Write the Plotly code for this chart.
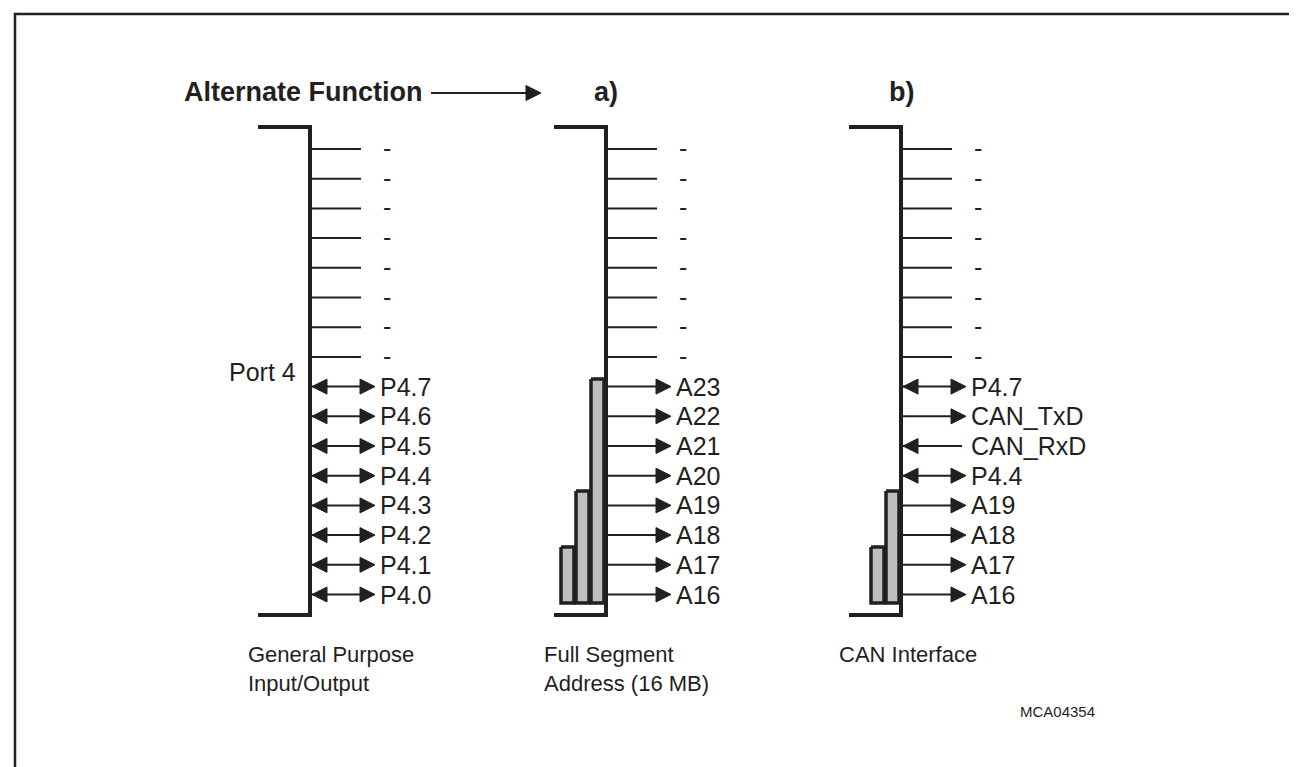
import plotly.graph_objects as go

#######################################
#   Data   #
#######################################

GPIO_LABELS = ["-"] * 8 + ["P4.7", "P4.6", "P4.5", "P4.4", "P4.3", "P4.2", "P4.1", "P4.0"]
GPIO_DIRS = ["none"] * 8 + ["both"] * 8

SEGMENT_LABELS = ["-"] * 8 + ["A23", "A22", "A21", "A20", "A19", "A18", "A17", "A16"]
SEGMENT_DIRS = ["none"] * 8 + ["out"] * 8
SEGMENT_GROUPS = [8, 4, 2]  # address lines grouped from the bottom pin

CAN_LABELS = ["-"] * 8 + ["P4.7", "CAN_TxD", "CAN_RxD", "P4.4", "A19", "A18", "A17", "A16"]
CAN_DIRS = ["none"] * 8 + ["both", "out", "in", "both", "out", "out", "out", "out"]
CAN_GROUPS = [4, 2]

COLUMN_TAGS = ["", "a)", "b)"]
COLUMN_TITLES = [
    ["General Purpose", "Input/Output"],
    ["Full Segment", "Address (16 MB)"],
    ["CAN Interface"],
]
HEADER = "Alternate Function"
PORT_NAME = "Port 4"
FIG_ID = "MCA04354"

#######################################
#   Geometry & style   #
#######################################

W, H = 1297, 767
INK = "#231f20"
GREY = "#bcbec0"
FONT = "Liberation Sans, Arial, sans-serif"
FS = 25

BUS_X = [302, 598, 893]
ROW_Y0, ROW_STEP = 141, 29.7
BUS_TOP, BUS_BOT = 119, 607
STUB = 52
DASH_LEN, ARROW_LEN = 51, 65
HEAD_L, HEAD_H = 15, 7.5
LABEL_DX = 68
BAR_W, BAR_UNIT, BAR_BOT = 15, 28, 595
TITLE_Y0, TITLE_STEP = 646, 29

columns = [
    (GPIO_LABELS, GPIO_DIRS, []),
    (SEGMENT_LABELS, SEGMENT_DIRS, SEGMENT_GROUPS),
    (CAN_LABELS, CAN_DIRS, CAN_GROUPS),
]

fig = go.Figure()

bus_x, bus_y = [], []
pin_x, pin_y = [], []
head_x, head_y = [], []
annotations = []


def right_head(tip, y):
    head_x.extend([tip - HEAD_L, tip, tip - HEAD_L, tip - HEAD_L, None])
    head_y.extend([y - HEAD_H, y, y + HEAD_H, y - HEAD_H, None])


def left_head(tip, y):
    head_x.extend([tip + HEAD_L, tip, tip + HEAD_L, tip + HEAD_L, None])
    head_y.extend([y - HEAD_H, y, y + HEAD_H, y - HEAD_H, None])


def text(x, y, s, size=FS, anchor="left", bold=False):
    annotations.append(
        dict(
            x=x, y=y, text=f"<b>{s}</b>" if bold else s,
            xref="x", yref="y", showarrow=False,
            xanchor=anchor, yanchor="middle", align="left",
            font=dict(family=FONT, size=size, color=INK),
        )
    )


for c, (labels, dirs, groups) in enumerate(columns):
    bx = BUS_X[c]
    bus_x.extend([bx - STUB, bx, bx, bx - STUB, None])
    bus_y.extend([BUS_TOP, BUS_TOP, BUS_BOT, BUS_BOT, None])

    # grouped address bars left of the bus
    for i, n in enumerate(groups):
        x1 = bx - 2 - BAR_W * i
        x0 = x1 - BAR_W + 2
        y0 = BAR_BOT - n * BAR_UNIT
        fig.add_trace(
            go.Scatter(
                x=[x0, x1, x1, x0, x0], y=[y0, y0, BAR_BOT, BAR_BOT, y0],
                mode="lines", fill="toself", fillcolor=GREY,
                line=dict(color=INK, width=3.5), hoverinfo="skip",
            )
        )

    for r, (lab, d) in enumerate(zip(labels, dirs)):
        y = ROW_Y0 + ROW_STEP * r
        if d == "none":
            pin_x.extend([bx, bx + DASH_LEN, None])
            text(bx + LABEL_DX + 3, y - 1, lab)
        else:
            tip = bx + ARROW_LEN
            pin_x.extend([bx, tip - 4, None])
            if d in ("out", "both"):
                right_head(tip, y)
            if d in ("in", "both"):
                left_head(bx + 2, y)
            text(bx + LABEL_DX, y, lab)
        pin_y.extend([y, y, None])

    if COLUMN_TAGS[c]:
        text(bx, 84, COLUMN_TAGS[c], size=27, anchor="center", bold=True)
    for k, line in enumerate(COLUMN_TITLES[c]):
        text(bx - STUB - 12, TITLE_Y0 + TITLE_STEP * k, line, size=22)

# header arrow
pin_x.extend([423, 528, None])
pin_y.extend([85, 85, None])
right_head(533, 85)
text(174, 84, HEADER, size=27, bold=True)
text(BUS_X[0] - 12, 364, PORT_NAME, anchor="right")
text(1010, 703, FIG_ID, size=15)

fig.add_trace(go.Scatter(x=pin_x, y=pin_y, mode="lines",
                         line=dict(color=INK, width=2), hoverinfo="skip"))
fig.add_trace(go.Scatter(x=head_x, y=head_y, mode="lines", fill="toself",
                         fillcolor=INK, line=dict(color=INK, width=1),
                         hoverinfo="skip"))
fig.add_trace(go.Scatter(x=bus_x, y=bus_y, mode="lines",
                         line=dict(color=INK, width=4), hoverinfo="skip"))

fig.update_layout(
    width=W,
    height=H,
    margin=dict(l=0, r=0, t=0, b=0),
    paper_bgcolor="white",
    plot_bgcolor="white",
    showlegend=False,
    annotations=annotations,
    xaxis=dict(range=[0, W], visible=False, fixedrange=True),
    yaxis=dict(range=[H, 0], visible=False, fixedrange=True),
    shapes=[
        dict(type="path", xref="x", yref="y",
             path=f"M 7,800 L 7,6 L 1296,6 L 1296,800",
             line=dict(color=INK, width=2.5)),
    ],
)

fig.write_html("out.html")
